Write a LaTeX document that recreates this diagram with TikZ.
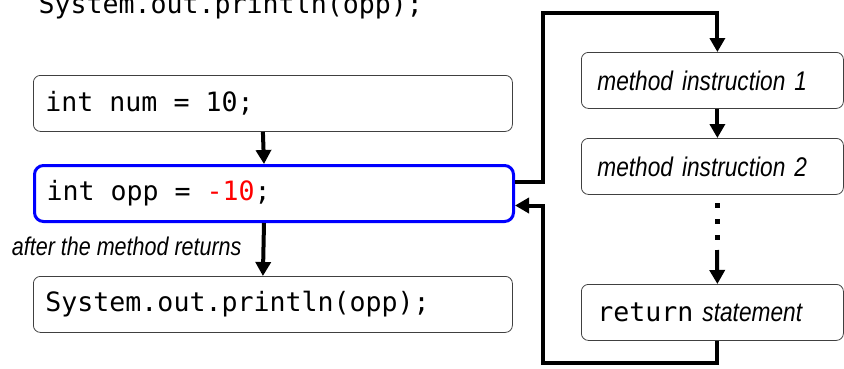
\documentclass[tikz,border=0pt]{standalone}
\usepackage{fontspec}
\setmonofont{DejaVu Sans Mono}
\newfontfamily\notefont[FakeStretch=0.84]{Liberation Sans}
\usetikzlibrary{arrows.meta}

\newcommand{\codefont}{\fontsize{26.6pt}{30pt}\selectfont\ttfamily\upshape}
\newcommand{\notesize}{\fontsize{27pt}{32pt}\selectfont\notefont\itshape}
\newcommand{\ms}{\hspace*{0.602em}} % one monospaced blank

\tikzset{
  stmt/.style={draw=black!75, line width=0.8pt, rounded corners=7pt, anchor=north west,
    minimum height=56pt, inner xsep=12pt, text width=455pt, align=left, font=\codefont},
  instr/.style={stmt, inner xsep=16pt, text width=230pt, font=\notesize},
  flow/.style={line width=4pt, -{Triangle[length=14pt,width=15pt]}},
}

\begin{document}
\begin{tikzpicture}[x=1pt, y=-1pt]
    \clip (0,0) rectangle (844,368);

    % caller
    \node[anchor=base west, font=\codefont] (prev) at (35,13) {System.out.println(opp);};
    \node[stmt] (num) at (33,75) {int\ms num\ms=\ms 10;};
    \node[stmt, draw=blue, line width=3pt, rounded corners=9pt] (opp) at (33,164) {int\ms opp\ms=\ms\textcolor{red}{-10};};
    \node[stmt] (print) at (33,276) {System.out.println(opp);};

    \draw[flow] ([xshift=-10pt]num.south) -- ([xshift=-10pt]opp.north);
    \draw[flow] ([xshift=-10pt]opp.south) -- ([xshift=-10pt]print.north);
    \node[anchor=east, font=\notesize\fontsize{25.6pt}{30pt}\selectfont] (ret_note) at (245,246) {after the method returns};

    % method body
    \node[instr] (ins1) at (581,52) {method instruction 1};
    \node[instr] (ins2) at (581,138) {method instruction 2};
    \node[instr] (ret) at (581,284) {{\codefont return} statement};

    \draw[flow] ([xshift=5pt]ins1.south) -- ([xshift=5pt]ins2.north);
    \draw[line width=5pt, dash pattern=on 5pt off 11pt] (717,203) -- (717,240);
    \coordinate (gap) at (717,250);
    \draw[flow] (gap) -- ([xshift=5pt]ret.north);

    % call and return
    \draw[flow] ([yshift=12pt]opp.east) -| (543,13) -| ([xshift=5pt]ins1.north);
    \draw[flow] ([xshift=5pt]ret.south) |- (543,363) |- ([yshift=-12pt]opp.east);
\end{tikzpicture}
\end{document}
